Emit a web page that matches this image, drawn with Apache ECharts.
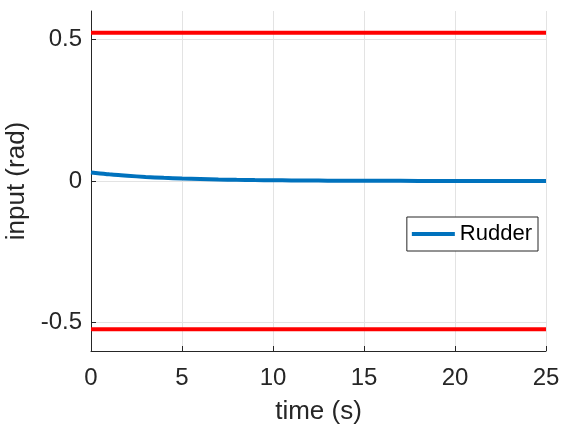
<!DOCTYPE html>
<html>
<head>
<meta charset="utf-8">
<script src="https://cdn.jsdelivr.net/npm/echarts@6/dist/echarts.min.js"></script>
<style>
  html, body { margin: 0; padding: 0; background: #fff; }
  #myChart { width: 561px; height: 433px; }
</style>
</head>
<body>
<div id="myChart"></div>
<script>
// rudder input over time (s, rad)
var time = [0, 0.5, 1, 1.5, 2, 3, 4, 5, 6, 7, 8, 9, 10, 11, 12, 13, 14, 15, 16, 18, 20, 22, 25];
var rudder = [0.030, 0.0265, 0.0235, 0.0208, 0.0184, 0.0145, 0.0113, 0.0088, 0.0069, 0.0054, 0.0042, 0.0033, 0.0026, 0.0020, 0.0016, 0.0012, 0.0010, 0.0007, 0.0006, 0.0004, 0.0002, 0.0001, 0.0001];
var limitTime = [0, 25];
var upperLimit = [0.5236, 0.5236];
var lowerLimit = [-0.5236, -0.5236];
var yTicks = [-0.5, 0, 0.5];

function pairs (xs, ys) {
  return xs.map(function (x, i) { return [x, ys[i]]; });
}

var myChart = echarts.init(document.getElementById('myChart'));
var font = 'Liberation Sans, Arial, sans-serif';
var axisColor = '#262626';

myChart.setOption({
  animation: false,
  grid: { left: 91, right: 15, top: 11, bottom: 82, outerBoundsMode: 'none' },
  legend: {
    data: ['Rudder'],
    right: 23,
    top: 217,
    orient: 'vertical',
    icon: 'rect',
    itemWidth: 43,
    itemHeight: 4,
    itemGap: 0,
    padding: [5, 6, 5, 5],
    borderColor: axisColor,
    borderWidth: 1,
    backgroundColor: '#fff',
    textStyle: { fontFamily: font, fontSize: 22, lineHeight: 24, color: '#000' }
  },
  xAxis: {
    type: 'value',
    min: 0,
    max: 25,
    interval: 5,
    name: 'time (s)',
    nameLocation: 'middle',
    nameGap: 48,
    nameTextStyle: { fontFamily: font, fontSize: 26, color: axisColor },
    axisLine: { onZero: false, lineStyle: { color: axisColor, width: 1 } },
    axisTick: { inside: true, length: 5, lineStyle: { color: axisColor } },
    axisLabel: { fontFamily: font, fontSize: 24, color: axisColor, margin: 15 },
    splitLine: { show: true, lineStyle: { color: '#e3e3e3', width: 1 } }
  },
  yAxis: {
    type: 'value',
    min: -0.6,
    max: 0.6,
    name: 'input (rad)',
    nameLocation: 'middle',
    nameGap: 56,
    nameTextStyle: { fontFamily: font, fontSize: 26, color: axisColor },
    axisLine: { show: true, onZero: false, lineStyle: { color: axisColor, width: 1 } },
    axisTick: { show: true, inside: true, length: 5, customValues: yTicks, lineStyle: { color: axisColor } },
    axisLabel: { fontFamily: font, fontSize: 24, color: axisColor, margin: 9, customValues: yTicks },
    splitLine: { show: true, lineStyle: { color: '#e3e3e3', width: 1 } }
  },
  series: [
    {
      name: 'upper',
      type: 'line',
      symbol: 'none',
      data: pairs(limitTime, upperLimit),
      lineStyle: { color: '#ff0000', width: 4 },
      z: 3
    },
    {
      name: 'lower',
      type: 'line',
      symbol: 'none',
      data: pairs(limitTime, lowerLimit),
      lineStyle: { color: '#ff0000', width: 4 },
      z: 3
    },
    {
      name: 'Rudder',
      type: 'line',
      symbol: 'none',
      smooth: true,
      data: pairs(time, rudder),
      itemStyle: { color: '#0072bd' },
      lineStyle: { color: '#0072bd', width: 4 },
      z: 4
    }
  ]
});
</script>
</body>
</html>
